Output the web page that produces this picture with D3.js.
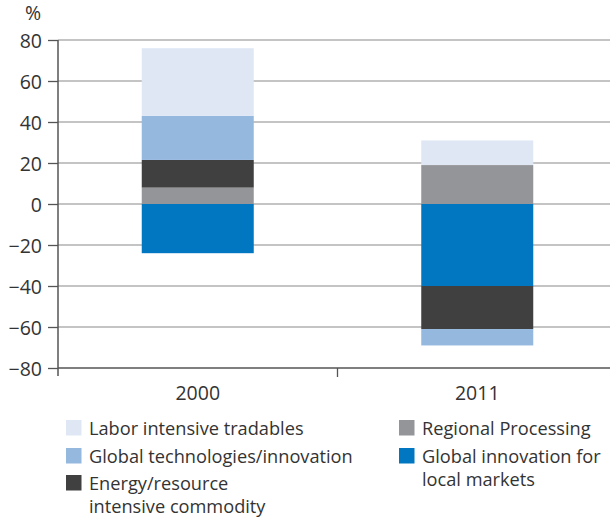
<!DOCTYPE html>
<html>
<head>
<meta charset="utf-8">
<script src="https://cdn.jsdelivr.net/npm/d3@7"></script>
<style>
  body { margin: 0; background: #fff; }
  svg { display: block; font-family: "Open Sans", "Noto Sans", sans-serif; }
</style>
</head>
<body>
<div id="chart"></div>
<script>
// Data
const years = ["2000", "2011"];
const seriesKeys = ["Regional Processing", "Global innovation for local markets",
    "Energy/resource intensive commodity", "Global technologies/innovation", "Labor intensive tradables"];
const regional = [8, 19];
const globalInnovation = [-24, -40];
const energy = [13.5, -21];
const globalTech = [21.5, -8];
const labor = [33, 12];
const yTicks = [-80, -60, -40, -20, 0, 20, 40, 60, 80];

const colors = {
    "Labor intensive tradables": "#dfe7f5",
    "Global technologies/innovation": "#95b8df",
    "Energy/resource intensive commodity": "#404040",
    "Regional Processing": "#939598",
    "Global innovation for local markets": "#0077c0"
};

// Legend layout: [key, lines, column, row]
const legendItems = [
    ["Labor intensive tradables", ["Labor intensive tradables"], 0, 0],
    ["Global technologies/innovation", ["Global technologies/innovation"], 0, 1],
    ["Energy/resource intensive commodity", ["Energy/resource", "intensive commodity"], 0, 2],
    ["Regional Processing", ["Regional Processing"], 1, 0],
    ["Global innovation for local markets", ["Global innovation for", "local markets"], 1, 1]
];

const table = years.map((yr, i) => ({
    year: yr,
    "Regional Processing": regional[i],
    "Global innovation for local markets": globalInnovation[i],
    "Energy/resource intensive commodity": energy[i],
    "Global technologies/innovation": globalTech[i],
    "Labor intensive tradables": labor[i]
}));

const W = 610, H = 517;
const axisFont = "19.5px";
const legendFont = "18.2px";
const textColor = "#333";
const svg = d3.select("#chart").append("svg")
    .attr("width", W)
    .attr("height", H);

const plot = { left: 58, right: 617, top: 40, bottom: 368 };

const x = d3.scaleBand().domain(years).range([plot.left, plot.right]);
const y = d3.scaleLinear().domain([-80, 80]).range([plot.bottom, plot.top]);
const barW = 112;

// Gridlines
svg.append("g")
    .selectAll("line")
    .data(yTicks.filter(t => t !== -80))
    .join("line")
    .attr("x1", plot.left)
    .attr("x2", W)
    .attr("y1", d => y(d))
    .attr("y2", d => y(d))
    .attr("stroke", "#b1b1b1")
    .attr("stroke-width", 1.5);

// Stacked bars
const stacked = d3.stack()
    .keys(seriesKeys)
    .offset(d3.stackOffsetDiverging)(table);

svg.append("g")
    .selectAll("g")
    .data(stacked)
    .join("g")
    .attr("fill", d => colors[d.key])
    .selectAll("rect")
    .data(d => d)
    .join("rect")
    .attr("x", d => x(d.data.year) + x.bandwidth() / 2 - barW / 2)
    .attr("width", barW)
    .attr("y", d => y(Math.max(d[0], d[1])))
    .attr("height", d => Math.abs(y(d[0]) - y(d[1])));

// Y axis
const yAxis = svg.append("g")
    .attr("transform", `translate(${plot.left},0)`)
    .call(d3.axisLeft(y).tickValues(yTicks).tickSize(10).tickSizeOuter(0)
        .tickFormat(d => d < 0 ? "\u2212" + Math.abs(d) : d));
yAxis.select(".domain").attr("stroke", "#555").attr("stroke-width", 1.5)
    .attr("d", `M0,${plot.top}V${plot.bottom + 8}`);
yAxis.selectAll(".tick line").attr("stroke", "#555").attr("stroke-width", 1.3);
yAxis.selectAll(".tick text")
    .attr("x", -16)
    .attr("dy", "0.36em")
    .attr("fill", textColor)
    .style("font-size", axisFont)
    .style("font-family", "'Open Sans', sans-serif");

// X axis along -80
const xAxis = svg.append("g")
    .attr("transform", `translate(0,${plot.bottom})`)
    .call(d3.axisBottom(x).tickSize(0).tickSizeOuter(0));
xAxis.select(".domain").attr("stroke", "#555").attr("stroke-width", 1.5)
    .attr("d", `M${plot.left},0H${W}`);
xAxis.selectAll(".tick text")
    .attr("y", 32)
    .attr("dy", 0)
    .attr("fill", textColor)
    .style("font-size", axisFont)
    .style("font-family", "'Open Sans', sans-serif");

// Category boundary ticks
svg.append("g")
    .selectAll("line")
    .data([x(years[1])])
    .join("line")
    .attr("x1", d => d)
    .attr("x2", d => d)
    .attr("y1", plot.bottom)
    .attr("y2", plot.bottom + 9)
    .attr("stroke", "#555")
    .attr("stroke-width", 1.3);

// % unit label
svg.append("text")
    .attr("x", 25)
    .attr("y", 20)
    .attr("fill", textColor)
    .style("font-size", axisFont)
    .text("%");

// Legend
const colX = [66, 399];
const rowY = [420, 448, 475];
const legend = svg.append("g");
legendItems.forEach(([key, lines, col, row]) => {
    const g = legend.append("g");
    g.append("rect")
        .attr("x", colX[col])
        .attr("y", rowY[row])
        .attr("width", 15.5)
        .attr("height", 15.5)
        .attr("fill", colors[key]);
    g.append("text")
        .attr("x", colX[col] + 23)
        .attr("y", rowY[row] + 15)
        .attr("fill", textColor)
        .style("font-size", legendFont)
        .selectAll("tspan")
        .data(lines)
        .join("tspan")
        .attr("x", colX[col] + 23)
        .attr("dy", (d, i) => i === 0 ? 0 : 23)
        .text(d => d);
});
</script>
</body>
</html>
